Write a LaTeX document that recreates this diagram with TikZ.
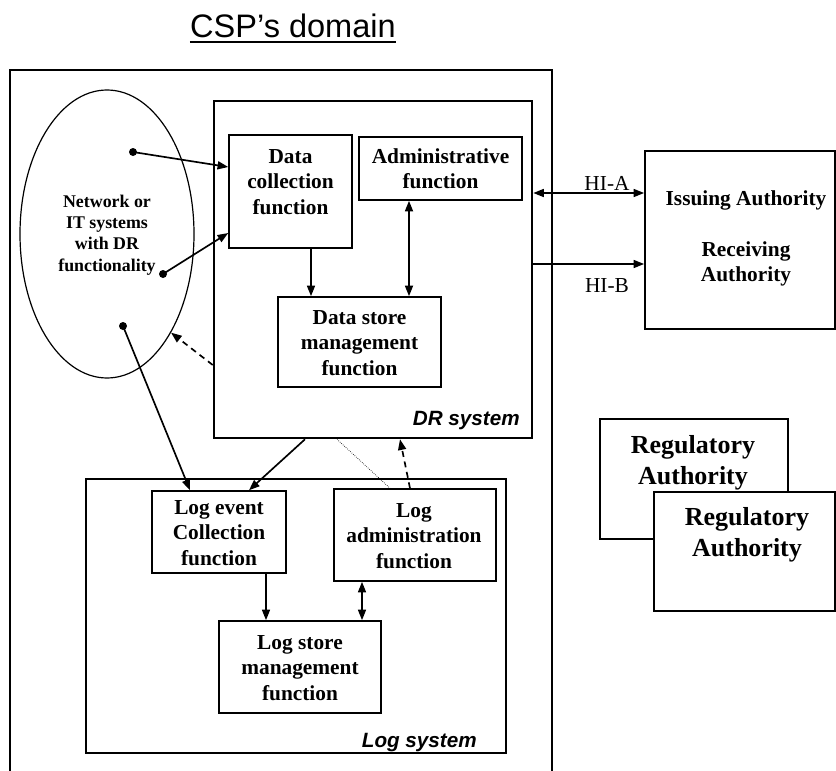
\documentclass[tikz,border=0pt]{standalone}
\usepackage{fontspec}
\setmainfont{Liberation Serif}
\setsansfont{Liberation Sans}
\usetikzlibrary{arrows.meta,shapes.geometric,fit}

\begin{document}
\begin{tikzpicture}[x=0.75pt,y=-0.75pt,
  sysframe/.style={draw, line width=1.9pt, inner sep=0pt},
  fnbox/.style={draw, line width=1.15pt, inner sep=0pt},
  authbox/.style={draw, line width=1.2pt, fill=white, inner sep=0pt},
  fntext/.style={font=\bfseries\fontsize{16}{19}\selectfont, align=center, inner sep=0pt},
  nettext/.style={font=\bfseries\fontsize{13.4}{16}\selectfont, align=center, inner sep=0pt},
  regtext/.style={font=\bfseries\fontsize{19.5}{23}\selectfont, align=center, inner sep=0pt},
  systext/.style={font=\sffamily\bfseries\itshape\fontsize{15.5}{18}\selectfont, inner sep=0pt},
  hitext/.style={font=\fontsize{16}{19}\selectfont, inner sep=0pt},
  dot/.style={circle, fill, inner sep=0pt, minimum size=6pt},
  arr/.style={line width=1.25pt, -{Triangle[length=8pt,width=6pt]}},
  darr/.style={line width=1.25pt, {Triangle[length=8pt,width=6pt]}-{Triangle[length=8pt,width=6pt]}},
  dasharr/.style={arr, dash pattern=on 4.5pt off 3.5pt},
  dotline/.style={line width=0.5pt, densely dotted}
]
\useasboundingbox (0,0) rectangle (836,771);

% heading
\node[font=\sffamily\fontsize{24.4}{28}\selectfont, anchor=base, inner sep=0pt] (title) at (293,37) {CSP’s domain};
\draw[line width=1.5pt] ([yshift=-3.5pt]title.base west) -- ([yshift=-3.5pt]title.base east);

% provider domain frame (runs off the bottom)
\draw[line width=0.9pt] (10,780) -- (10,70) -- (552,70) -- (552,780);

% DR system
\node[sysframe, fit={(214,101)(532,438)}] (dr) {};
\node[systext, anchor=base east] (drlabel) at (520,425) {DR system};

\node[fnbox, fit={(229,135)(352,248)}] (dc) {};
\node[fntext] (dctext) at (290.5,182) {Data\\collection\\function};

\node[fnbox, fit={(359,137)(522,200)}] (adm) {};
\node[fntext] (admtext) at (440.5,169) {Administrative\\function};

\node[fnbox, fit={(278,297)(441,387)}] (ds) {};
\node[fntext] (dstext) at (359.5,343) {Data store\\management\\function};

% log system
\node[sysframe, fit={(86,479)(506,753)}] (logsys) {};
\node[systext, anchor=base east] (loglabel) at (477,747) {Log system};

\node[fnbox, fit={(152,491)(286,573)}] (le) {};
\node[fntext] (letext) at (219,533) {Log event\\Collection\\function};

\node[fnbox, fit={(334,489)(496,581)}] (la) {};
\node[fntext] (latext) at (414,536) {Log\\administration\\function};

\node[fnbox, fit={(219,621)(381,713)}] (ls) {};
\node[fntext] (lstext) at (300,668) {Log store\\management\\function};

% network / IT systems
\node[draw, line width=0.9pt, ellipse, minimum width=130.5pt, minimum height=216pt, inner sep=0pt] (net) at (107,234) {};
\node[nettext] (nettxt) at (107,235) {Network or\\IT systems\\with DR\\functionality};
\node[dot] (p1) at (133,152) {};
\node[dot] (p2) at (163,274) {};
\node[dot] (p3) at (123,326) {};

% authorities
\node[authbox, fit={(645,151)(835,329)}] (auth) {};
\node[fntext] (issue) at (746,200) {Issuing Authority};
\node[fntext] (recv) at (746,264) {Receiving\\Authority};

\node[authbox, fit={(600,419)(788,539)}] (reg1) {};
\node[regtext] (reg1text) at (693,463) {Regulatory\\Authority};
\node[authbox, fit={(654,492)(835,611)}] (reg2) {};
\node[regtext] (reg2text) at (747,535) {Regulatory\\Authority};

% connectors
\draw[arr] (p1.center) -- (dc.west |- 0,167);
\draw[arr] (p2.center) -- (dc.west |- 0,233);
\draw[arr] (p3.center) -- (le.north -| 190,0);
\draw[dasharr] (dr.west |- 0,365) -- (net.-57);

\draw[arr] (dc.south -| 311,0) -- (ds.north -| 311,0);
\draw[darr] (adm.south -| 409,0) -- (ds.north -| 409,0);

\draw[arr] (dr.south -| 305,0) -- (le.north -| 249,0);
\draw[dotline] (dr.south -| 337,0) -- (la.north -| 390,0);
\draw[dasharr] (la.north -| 410,0) -- (dr.south -| 400,0);

\draw[arr] (le.south -| 266,0) -- (ls.north -| 266,0);
\draw[darr] (la.south -| 362,0) -- (ls.north -| 362,0);

\draw[darr] (dr.east |- 0,193) -- (auth.west |- 0,193);
\node[hitext, anchor=base] (hia) at (607,190) {HI-A};
\draw[arr] (dr.east |- 0,264) -- (auth.west |- 0,264);
\node[hitext, anchor=base] (hib) at (607,292) {HI-B};
\end{tikzpicture}
\end{document}
